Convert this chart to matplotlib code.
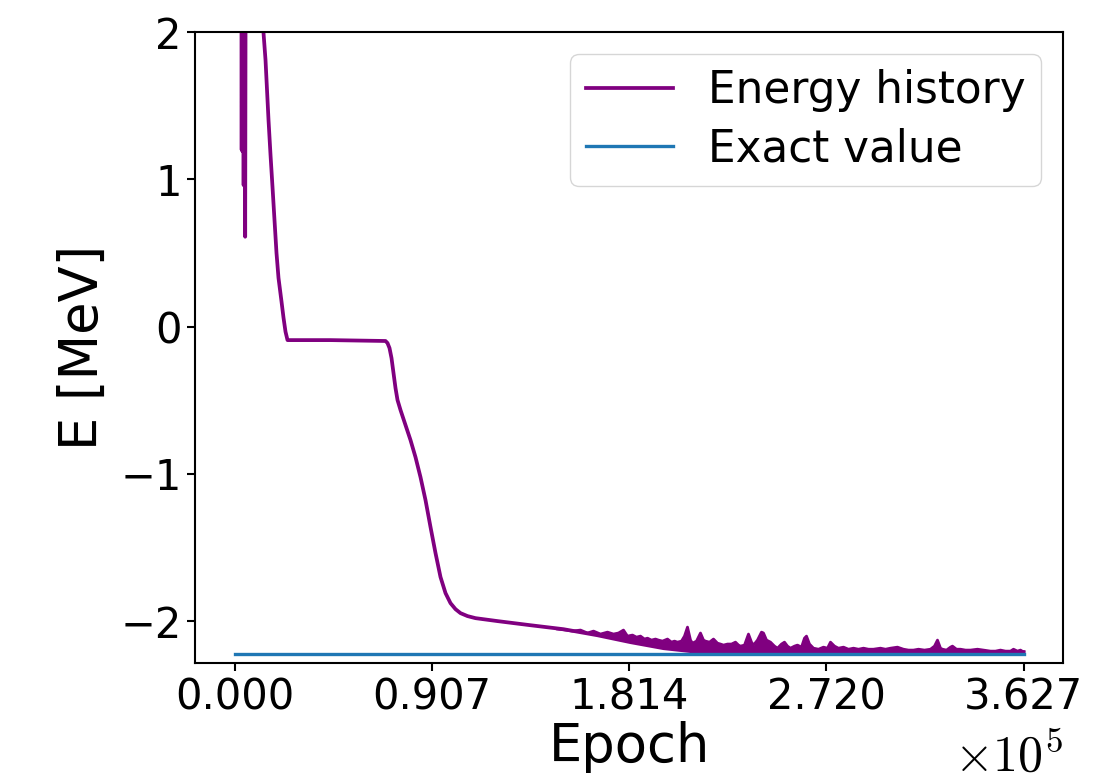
import matplotlib
matplotlib.use("Agg")
import matplotlib.pyplot as plt
import numpy as np

plt.rcParams["mathtext.fontset"] = "cm"

# exact ground-state energy (deuteron)
E_EXACT = -2.2246
N_EPOCHS = 362700

# smooth training curve: epoch, energy [MeV]
hist_epoch = [0, 3000, 3300, 3500, 3700, 3900, 4200, 4500, 4900, 5300, 9000,
              13300, 14250, 15630, 16550, 17465, 18380, 19300, 20220, 21600,
              22520, 23440, 24360, 44100, 69400, 70320, 71240, 72160, 73080,
              74000, 74920, 76300, 78590, 80890, 83190, 85490, 87780, 90080,
              92380, 94680, 96980, 99270, 101570, 103870, 107090, 110760,
              120870, 136000, 151200, 166800, 182000, 197200, 209600, 237100,
              362700]
hist_energy = [8.0, 5.0, 1.20, 4.0, 1.19, 4.0, 0.96, 4.0, 0.61, 4.0, 3.2,
               2.0, 1.810, 1.402, 1.165, 0.947, 0.723, 0.499, 0.330, 0.170,
               0.060, -0.035, -0.092, -0.092, -0.098, -0.112, -0.146, -0.214, -0.316,
               -0.418, -0.499, -0.567, -0.669, -0.771, -0.887, -1.023, -1.178, -1.361,
               -1.538, -1.701, -1.810, -1.878, -1.919, -1.946, -1.966, -1.980,
               -2.000, -2.028, -2.055, -2.096, -2.143, -2.184, -2.204, -2.210,
               -2.210]

# upper edge of the noisy band late in training
noise_epoch = [148450, 152130, 155340, 159020, 162240, 165000, 168210, 171430,
               174190, 176490, 178780, 180620, 182920, 184760, 186600, 188440,
               189810, 191650, 193490, 194870, 196710, 199010, 200850, 202220,
               203600, 205440, 206820, 208200, 209580, 210500, 212340, 214170,
               215550, 216470, 218310, 220150, 221990, 223370, 224740, 226580,
               228420, 230260, 231640, 232560, 234400, 236230, 237610, 238530,
               240370, 242210, 243130, 244510, 246350, 248180, 249560, 251400,
               252780, 254160, 255540, 257380, 258750, 260590, 261970, 262890,
               264270, 266110, 268410, 270700, 272540, 273920, 275760, 277600,
               279900, 282190, 284490, 286790, 289090, 291390, 293680, 296900,
               299200, 301500, 304710, 307470, 309770, 312070, 314370, 317120,
               319880, 321720, 323100, 324480, 325400, 327240, 329070, 329990,
               331830, 333670, 335970, 338270, 341480, 344240, 347460, 349760,
               352050, 354350, 356650, 358030, 359870, 361250, 362700]
noise_energy = [-2.054, -2.061, -2.068, -2.061, -2.081, -2.068, -2.088, -2.075,
                -2.088, -2.081, -2.061, -2.102, -2.095, -2.109, -2.102, -2.122,
                -2.116, -2.129, -2.122, -2.129, -2.136, -2.122, -2.143, -2.136,
                -2.143, -2.136, -2.102, -2.041, -2.129, -2.150, -2.136, -2.081,
                -2.129, -2.136, -2.143, -2.122, -2.150, -2.156, -2.163, -2.156,
                -2.156, -2.143, -2.163, -2.170, -2.163, -2.088, -2.143, -2.163,
                -2.129, -2.075, -2.081, -2.129, -2.143, -2.170, -2.184, -2.156,
                -2.143, -2.170, -2.184, -2.170, -2.163, -2.177, -2.116, -2.102,
                -2.156, -2.184, -2.191, -2.177, -2.184, -2.143, -2.170, -2.184,
                -2.177, -2.191, -2.184, -2.191, -2.184, -2.191, -2.191, -2.184,
                -2.191, -2.184, -2.177, -2.191, -2.197, -2.197, -2.191, -2.197,
                -2.191, -2.170, -2.129, -2.184, -2.191, -2.197, -2.177, -2.170,
                -2.191, -2.191, -2.197, -2.197, -2.191, -2.197, -2.204, -2.204,
                -2.197, -2.204, -2.204, -2.191, -2.204, -2.197, -2.210]

PURPLE = "purple"

fig = plt.figure(figsize=(11.02, 7.81), dpi=100)
ax = fig.add_axes([0.177, 0.151, 0.7877, 0.808])

ax.plot(hist_epoch, hist_energy, color=PURPLE, lw=2.7, label="Energy history")
lower = np.interp(noise_epoch, hist_epoch, hist_energy)
ax.fill_between(noise_epoch, lower, noise_energy, color=PURPLE, lw=0)
ax.plot(noise_epoch, noise_energy, color=PURPLE, lw=2.0)
ax.plot([0, N_EPOCHS], [E_EXACT, E_EXACT], color="#1f77b4", lw=2.4,
        label="Exact value")

ax.set_xlim(-0.05 * N_EPOCHS, 1.05 * N_EPOCHS)
ax.set_ylim(-2.285, 2)

xt = np.linspace(0, N_EPOCHS, 5)
ax.set_xticks(xt)
ax.set_xticklabels(["0.000", "0.907", "1.814", "2.720", "3.627"])
ax.set_yticks([-2, -1, 0, 1, 2])

ax.tick_params(labelsize=30, length=6, width=1.5)
for s in ax.spines.values():
    s.set_linewidth(1.5)

ax.set_xlabel("Epoch", fontsize=38, labelpad=2)
ax.set_ylabel("E [MeV]", fontsize=38, labelpad=8)
fig.text(0.964, 0.0, r"$\times10^{5}$", fontsize=36, ha="right", va="bottom")

ax.legend(loc="upper right", fontsize=31.5, labelspacing=0.35, borderpad=0.35)

fig.savefig("out.png", dpi=100, facecolor="white")
